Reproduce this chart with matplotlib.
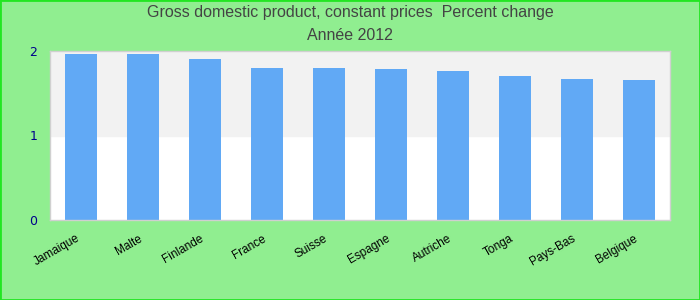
import matplotlib
matplotlib.use("Agg")
import matplotlib.pyplot as plt
import matplotlib.transforms as mtrans
import numpy as np

plt.rcParams['font.family'] = ['Liberation Sans', 'DejaVu Sans']

countries = ["Jamaique", "Malte", "Finlande", "France", "Suisse",
             "Espagne", "Autriche", "Tonga", "Pays-Bas", "Belgique"]
values = [1.97, 1.96, 1.91, 1.80, 1.80, 1.79, 1.76, 1.71, 1.67, 1.66]
yticks = [0, 1, 2]

fig = plt.figure(figsize=(7, 3), dpi=100, facecolor="#90ee90")
ax = fig.add_axes([50 / 700, 1 - 220 / 300, 620 / 700, 169 / 300])
ax.set_facecolor("white")

# alternating bands
ax.axhspan(1, 2, color="#f2f2f2", zorder=0)

x = np.arange(len(countries))
ax.bar(x, values, width=0.52, color="#61a9f5", zorder=2)

ax.set_xlim(-0.5, len(countries) - 0.5)
ax.set_ylim(0, 2)
ax.set_yticks(yticks)
ax.set_yticklabels([str(t) for t in yticks], color="#00008b", fontsize=9,
                   family=["DejaVu Sans"])
ax.set_xticks(x)
ax.set_xticklabels(countries, rotation=30, ha="right", rotation_mode="anchor",
                   fontsize=8.5, color="black")
ax.tick_params(axis="both", length=0)
ax.tick_params(axis="y", pad=9)
ax.tick_params(axis="x", pad=9)

# shift x labels a bit left
shift = mtrans.ScaledTranslation(-5 / 100, 0, fig.dpi_scale_trans)
for lbl in ax.get_xticklabels():
    lbl.set_transform(lbl.get_transform() + shift)

for s in ax.spines.values():
    s.set_color("#d0d0d0")
    s.set_linewidth(1)

fig.text(0.5, 1 - 13 / 300, "Gross domestic product, constant prices  Percent change",
         ha="center", va="center", fontsize=11.5, color="#444444")
fig.text(0.5, 1 - 36 / 300, "Ann\u00e9e 2012",
         ha="center", va="center", fontsize=11.5, color="#444444")

# outer border
border = plt.Rectangle((0, 0), 1, 1, transform=fig.transFigure, fill=False,
                       edgecolor="#22e622", linewidth=2)
fig.patches.append(border)

fig.savefig("out.png", dpi=100, facecolor=fig.get_facecolor())
